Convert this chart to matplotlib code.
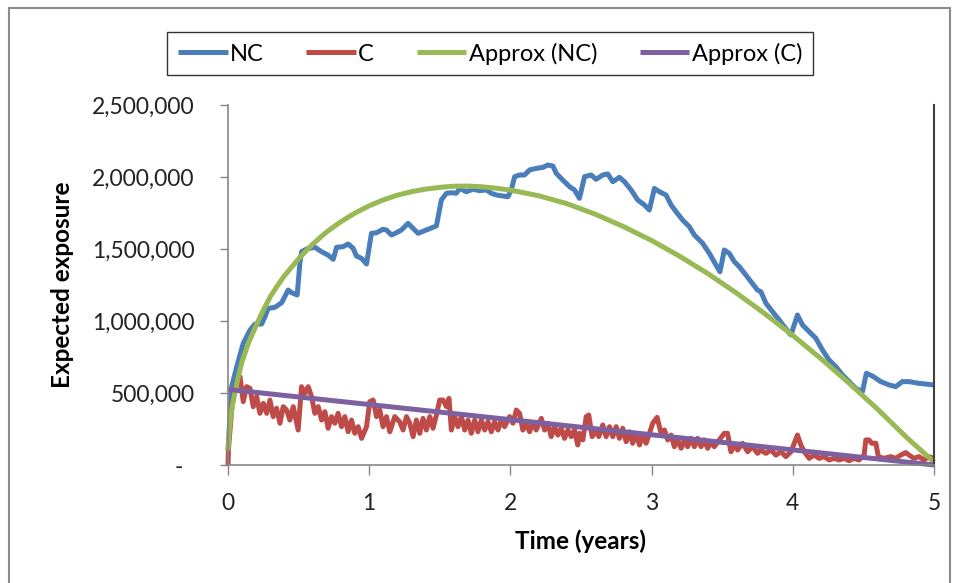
import matplotlib.pyplot as plt
from matplotlib.patches import Rectangle
from matplotlib.ticker import FuncFormatter, MultipleLocator

# (time in years, expected exposure in thousands)
nc_points = [
    (0, 100), (0.026, 544), (0.062, 683), (0.108, 845), (0.156, 937), (0.191, 979),
    (0.238, 979), (0.262, 1030), (0.285, 1088), (0.332, 1095), (0.380, 1127), (0.426, 1215),
    (0.450, 1197), (0.490, 1181), (0.509, 1401), (0.521, 1481), (0.557, 1500), (0.615, 1512),
    (0.663, 1481), (0.709, 1458), (0.745, 1428), (0.769, 1512), (0.815, 1516), (0.851, 1535),
    (0.886, 1505), (0.910, 1451), (0.946, 1435), (0.981, 1396), (1.016, 1609), (1.052, 1613),
    (1.098, 1637), (1.122, 1632), (1.158, 1597), (1.193, 1613), (1.228, 1632), (1.275, 1678),
    (1.310, 1644), (1.346, 1609), (1.405, 1632), (1.476, 1660), (1.511, 1840), (1.547, 1887),
    (1.582, 1891), (1.617, 1887), (1.641, 1921), (1.688, 1898), (1.735, 1915), (1.782, 1905),
    (1.830, 1910), (1.865, 1887), (1.900, 1875), (1.947, 1868), (1.982, 1863), (2.006, 1910),
    (2.030, 2002), (2.065, 2014), (2.100, 2014), (2.136, 2049), (2.183, 2060), (2.230, 2067),
    (2.265, 2083), (2.301, 2076), (2.325, 2025), (2.371, 1979), (2.419, 1933), (2.454, 1910),
    (2.489, 1852), (2.525, 2002), (2.572, 2014), (2.607, 1984), (2.654, 2014), (2.690, 2021),
    (2.725, 1967), (2.772, 1998), (2.808, 1967), (2.855, 1910), (2.902, 1840), (2.949, 1806),
    (2.984, 1771), (3.020, 1921), (3.055, 1898), (3.102, 1875), (3.138, 1806), (3.173, 1759),
    (3.220, 1701), (3.267, 1655), (3.303, 1597), (3.361, 1540), (3.409, 1470), (3.456, 1389),
    (3.484, 1342), (3.515, 1493), (3.550, 1470), (3.586, 1412), (3.621, 1377), (3.668, 1319),
    (3.704, 1273), (3.750, 1215), (3.774, 1203), (3.810, 1123), (3.856, 1065), (3.904, 1007),
    (3.939, 961), (3.987, 903), (4.033, 1042), (4.069, 972), (4.116, 926), (4.163, 880),
    (4.210, 799), (4.257, 729), (4.305, 683), (4.352, 625), (4.399, 579), (4.446, 532),
    (4.493, 509), (4.521, 637), (4.564, 618), (4.623, 579), (4.682, 556), (4.729, 544),
    (4.776, 579), (4.823, 579), (4.894, 567), (5.0, 556),
]

c_points = [
    (0, 0), (0.004, 120), (0.03, 430), (0.06, 560), (0.085, 613), (0.108, 440),
    (0.132, 544), (0.156, 532), (0.179, 405), (0.203, 474), (0.226, 359), (0.250, 428),
    (0.274, 359), (0.297, 451), (0.320, 336), (0.344, 394), (0.368, 290), (0.391, 405),
    (0.415, 382), (0.438, 312), (0.462, 405), (0.497, 243), (0.521, 544), (0.545, 498),
    (0.568, 544), (0.592, 474), (0.615, 359), (0.639, 405), (0.663, 312), (0.686, 370),
    (0.709, 255), (0.733, 336), (0.757, 290), (0.780, 359), (0.804, 266), (0.827, 336),
    (0.851, 231), (0.875, 312), (0.898, 220), (0.922, 266), (0.946, 185), (0.981, 266),
    (1.004, 440), (1.028, 451), (1.052, 336), (1.075, 382), (1.098, 266), (1.122, 336),
    (1.146, 231), (1.181, 336), (1.216, 300), (1.240, 243), (1.264, 336), (1.287, 290),
    (1.311, 197), (1.334, 312), (1.358, 220), (1.381, 324), (1.405, 243), (1.429, 336),
    (1.452, 255), (1.476, 347), (1.499, 451), (1.523, 451), (1.547, 405), (1.565, 463),
    (1.582, 243), (1.605, 336), (1.629, 266), (1.653, 336), (1.676, 243), (1.700, 312),
    (1.723, 220), (1.747, 312), (1.770, 231), (1.794, 312), (1.818, 243), (1.841, 301),
    (1.865, 231), (1.888, 301), (1.912, 243), (1.936, 312), (1.959, 266), (1.994, 336),
    (2.018, 290), (2.042, 382), (2.065, 359), (2.088, 243), (2.112, 290), (2.136, 231),
    (2.159, 290), (2.183, 243), (2.219, 324), (2.242, 243), (2.265, 290), (2.289, 197),
    (2.313, 266), (2.336, 208), (2.360, 255), (2.383, 185), (2.407, 243), (2.431, 197),
    (2.454, 243), (2.477, 139), (2.489, 220), (2.513, 174), (2.537, 336), (2.555, 347),
    (2.579, 197), (2.603, 243), (2.626, 197), (2.654, 278), (2.678, 197), (2.702, 266),
    (2.725, 197), (2.749, 266), (2.772, 185), (2.796, 255), (2.820, 162), (2.843, 231),
    (2.866, 151), (2.890, 220), (2.914, 139), (2.937, 208), (2.961, 151), (2.985, 220),
    (3.008, 290), (3.039, 331), (3.067, 220), (3.091, 243), (3.114, 174), (3.138, 208),
    (3.161, 127), (3.185, 174), (3.209, 116), (3.232, 174), (3.255, 127), (3.279, 185),
    (3.303, 127), (3.326, 185), (3.350, 127), (3.373, 174), (3.397, 116), (3.421, 162),
    (3.444, 127), (3.479, 174), (3.515, 220), (3.538, 220), (3.562, 92), (3.586, 139),
    (3.609, 104), (3.644, 151), (3.680, 92), (3.715, 127), (3.750, 81), (3.770, 104),
    (3.810, 81), (3.845, 104), (3.880, 69), (3.916, 92), (3.951, 58), (3.987, 92),
    (4.010, 151), (4.033, 208), (4.057, 139), (4.081, 92), (4.116, 46), (4.151, 69),
    (4.187, 46), (4.222, 58), (4.257, 35), (4.293, 46), (4.328, 35), (4.363, 46),
    (4.399, 30), (4.434, 46), (4.469, 35), (4.505, 69), (4.517, 174), (4.540, 174),
    (4.559, 151), (4.588, 151), (4.606, 58), (4.646, 46), (4.694, 58), (4.729, 46),
    (4.764, 69), (4.800, 86), (4.823, 69), (4.858, 46), (4.894, 58), (4.929, 35),
    (4.965, 58), (5.0, 46),
]

approx_nc_points = [
    (0, 100), (0.01, 250), (0.025, 380), (0.05, 510), (0.075, 620), (0.1, 720),
    (0.15, 860), (0.2, 970), (0.25, 1075), (0.3, 1170), (0.35, 1245), (0.4, 1315),
    (0.5, 1432), (0.6, 1534), (0.7, 1620), (0.8, 1690), (0.9, 1750), (1.0, 1800),
    (1.1, 1841), (1.2, 1874), (1.3, 1898), (1.4, 1916), (1.5, 1928), (1.6, 1936),
    (1.7, 1937), (1.8, 1932), (1.9, 1922), (2.0, 1909), (2.2, 1870), (2.4, 1815),
    (2.6, 1742), (2.8, 1656), (3.0, 1559), (3.2, 1449), (3.4, 1328), (3.6, 1195),
    (3.8, 1052), (4.0, 900), (4.2, 738), (4.4, 567), (4.6, 388), (4.8, 197), (5.0, 20),
]

approx_c_points = [(0, 525), (5, 0)]

series = [
    ("NC", nc_points, "#4a7ebb"),
    ("C", c_points, "#be4b48"),
    ("Approx (NC)", approx_nc_points, "#98b954"),
    ("Approx (C)", approx_c_points, "#7d60a0"),
]

font = "Lato"
plt.rcParams["font.family"] = [font, "DejaVu Sans"]

fig = plt.figure(figsize=(9.59, 5.83), dpi=100)
ax = fig.add_axes([228 / 959, 1 - 465 / 583, 706 / 959, 360 / 583])

for name, pts, color in series:
    xs = [p[0] for p in pts]
    ys = [p[1] * 1000 for p in pts]
    ax.plot(xs, ys, color=color, lw=3.6, label=name, clip_on=False,
            solid_joinstyle="round", solid_capstyle="butt")

ax.set_xlim(0, 5)
ax.set_ylim(0, 2.5e6)
ax.xaxis.set_major_locator(MultipleLocator(1))
ax.yaxis.set_major_locator(MultipleLocator(500000))
ax.yaxis.set_major_formatter(FuncFormatter(lambda v, p: "-  " if v == 0 else f"{v:,.0f}"))

for s in ("left", "bottom"):
    ax.spines[s].set_color("#868686")
    ax.spines[s].set_linewidth(1.2)
ax.spines["top"].set_visible(False)
ax.spines["right"].set_color("#404040")
ax.spines["right"].set_linewidth(1.5)

ax.tick_params(axis="y", direction="out", length=6, width=1, color="#868686",
               labelsize=16.5, labelcolor="#222222", pad=18)
ax.tick_params(axis="x", direction="out", length=7, width=1, color="#868686",
               labelsize=16.5, labelcolor="#222222", pad=13)

ax.set_xlabel("Time (years)", fontsize=17.5, fontweight="bold")
ax.set_ylabel("Expected exposure", fontsize=17.5, fontweight="bold")
ax.xaxis.set_label_coords(0.4986, -0.18)
ax.yaxis.set_label_coords(-0.218, 0.5)

leg = fig.legend(loc="center", bbox_to_anchor=(490 / 959, 1 - 53.5 / 583), ncol=4,
                 fontsize=17, frameon=True, fancybox=False, handlelength=2.1,
                 handletextpad=0.1, columnspacing=1.8, borderpad=0.45)
leg.get_frame().set_edgecolor("black")
leg.get_frame().set_linewidth(1.0)

fig.patches.append(Rectangle((9 / 959, -0.01), 941 / 959, 1.0 - 8 / 583 + 0.01,
                             transform=fig.transFigure, fill=False,
                             edgecolor="#8c8c8c", linewidth=1.5))

fig.savefig("out.png", dpi=100)
